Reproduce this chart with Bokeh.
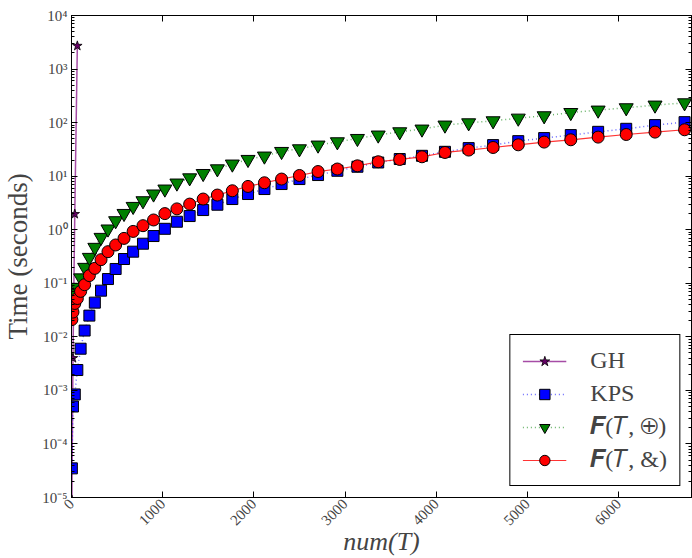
import math
from bokeh.plotting import figure
from bokeh.models import (LogAxis, LinearAxis, FixedTicker, Legend, LegendItem,
                          Range1d, ColumnDataSource)
from bokeh.embed import file_html
from bokeh.resources import INLINE

# ---------------- data ----------------
num_T = [4, 16, 36, 64, 100, 144, 196, 256, 324, 400, 484, 576, 676, 784, 900,
         1024, 1156, 1296, 1444, 1600, 1764, 1936, 2116, 2304, 2500, 2704, 2916,
         3136, 3364, 3600, 3844, 4096, 4356, 4624, 4900, 5184, 5476, 5776, 6084,
         6400, 6724]

gh_x = [4, 16, 36, 64]
gh_time = [9e-6, 4.0e-3, 1.96, 2710]

kps_time = [3.5e-5, 5.0e-4, 8.4e-4, 2.4e-3, 6.0e-3, 0.0131, 0.0249, 0.0435, 0.0728,
            0.120, 0.185, 0.284, 0.389, 0.548, 0.762, 1.04, 1.41, 1.80, 2.33, 2.93,
            3.74, 4.64, 5.75, 7.13, 8.83, 10.5, 12.6, 15.0, 18.0, 20.9, 24.0, 28.5,
            33.4, 38.0, 45.1, 51.4, 58.5, 67.3, 76.6, 89.8, 102]

f_xor_time = [0.033, 0.048, 0.064, 0.084, 0.126, 0.198, 0.304, 0.468, 0.718, 1.03,
              1.47, 2.01, 2.72, 3.47, 4.64, 5.74, 7.43, 9.3, 11.2, 13.7, 16.8, 20.5,
              23.7, 28.9, 32.4, 38.0, 43.8, 50.5, 58.5, 67.3, 75.6, 89.8, 99, 108,
              121, 134, 154, 171, 189, 212, 234]

f_and_time = [0.021, 0.029, 0.042, 0.052, 0.0706, 0.094, 0.139, 0.190, 0.276, 0.389,
              0.519, 0.689, 0.930, 1.19, 1.52, 2.00, 2.45, 3.01, 3.74, 4.44, 5.34,
              6.43, 7.53, 8.83, 10.3, 12.2, 13.6, 15.6, 18.6, 20.5, 23.0, 27.7, 30.7,
              34.3, 38.5, 43.3, 47.8, 53.6, 60.0, 66.5, 73.5]

x_ticks = [0, 1000, 2000, 3000, 4000, 5000, 6000]
y_ticks = [1e-5, 1e-4, 1e-3, 1e-2, 1e-1, 1e0, 1e1, 1e2, 1e3, 1e4]
y_tick_labels = ["10⁻⁵", "10⁻⁴", "10⁻³", "10⁻²", "10⁻¹", "10⁰", "10¹", "10²", "10³", "10⁴"]

labels = ["GH", "KPS", "𝑭(𝑇, ⊕)", "𝑭(𝑇, &)"]

# ---------------- figure ----------------
SERIF = "Liberation Serif"

p = figure(width=692, height=558, x_range=Range1d(0, 6800), y_range=Range1d(1e-5, 1e4),
           y_axis_type="log", output_backend="svg", toolbar_location=None,
           min_border_left=69, min_border_right=1, min_border_top=15, min_border_bottom=61)
p.grid.visible = False
p.outline_line_color = "black"
p.background_fill_color = "white"

minor_y = [m * d for d in y_ticks[:-1] for m in range(2, 10)]
yt = FixedTicker(ticks=y_ticks, minor_ticks=minor_y)
xt = FixedTicker(ticks=x_ticks, minor_ticks=[])


def style_axis(ax):
    ax.axis_line_color = "black"
    ax.major_tick_in = 6
    ax.major_tick_out = 0
    ax.minor_tick_in = 3
    ax.minor_tick_out = 0
    ax.major_tick_line_color = "black"
    ax.minor_tick_line_color = "black"
    ax.major_label_text_font = SERIF
    ax.major_label_text_font_size = "15px"
    ax.major_label_text_color = "#444444"


# left
p.yaxis.ticker = yt
p.yaxis.major_label_overrides = dict(zip(y_ticks, y_tick_labels))
style_axis(p.yaxis[0])
p.yaxis.major_label_standoff = 4
p.yaxis.axis_label = "Time (seconds)"
p.yaxis.axis_label_text_font = SERIF
p.yaxis.axis_label_text_font_size = "27px"
p.yaxis.axis_label_text_font_style = "normal"
p.yaxis.axis_label_standoff = 6

# bottom
p.xaxis.ticker = xt
style_axis(p.xaxis[0])
p.xaxis.major_label_orientation = math.pi / 4
p.xaxis.major_label_standoff = 4
p.xaxis.axis_label = "num(T)"
p.xaxis.axis_label_text_font = SERIF
p.xaxis.axis_label_text_font_size = "26px"
p.xaxis.axis_label_text_font_style = "italic"
p.xaxis.axis_label_standoff = -6

# right and top (ticks only)
ra = LogAxis(ticker=yt, major_label_overrides={t: "" for t in y_ticks})
style_axis(ra)
ra.major_label_standoff = 0
p.add_layout(ra, "right")
ta = LinearAxis(ticker=xt, major_label_overrides={t: "" for t in x_ticks})
style_axis(ta)
ta.major_label_standoff = 0
p.add_layout(ta, "above")

# ---------------- series ----------------
src = ColumnDataSource(dict(x=num_T, kps=kps_time, fx=f_xor_time, fa=f_and_time))
gsrc = ColumnDataSource(dict(x=gh_x, y=gh_time))

gl = p.line("x", "y", source=gsrc, line_color="purple", line_width=1.5, line_alpha=0.7)
gs = p.scatter("x", "y", source=gsrc, marker="star", size=10, fill_color="#660066",
               line_color="black", line_width=0.8)

kl = p.line("x", "kps", source=src, line_color="blue", line_width=1.5, line_alpha=0.6,
            line_dash="1 3")
ks = p.scatter("x", "kps", source=src, marker="square", size=11, fill_color="blue",
               line_color="black", line_width=1)

xl = p.line("x", "fx", source=src, line_color="green", line_width=1.5, line_alpha=0.6,
            line_dash="1 3")
xs = p.scatter("x", "fx", source=src, marker="inverted_triangle", size=14,
               fill_color="green", line_color="black", line_width=1)

al = p.line("x", "fa", source=src, line_color="red", line_width=1.2, line_alpha=0.8)
as_ = p.scatter("x", "fa", source=src, marker="circle", size=12, fill_color="red",
                line_color="black", line_width=1)

legend = Legend(items=[LegendItem(label=labels[0], renderers=[gl, gs]),
                       LegendItem(label=labels[1], renderers=[kl, ks]),
                       LegendItem(label=labels[2], renderers=[xl, xs]),
                       LegendItem(label=labels[3], renderers=[al, as_])],
                location="bottom_right")
legend.border_line_color = "black"
legend.border_line_width = 1
legend.border_line_alpha = 1
legend.background_fill_alpha = 1
legend.margin = 11
legend.padding = 12
legend.spacing = 6
legend.glyph_width = 44
legend.glyph_height = 26
legend.label_height = 26
legend.label_standoff = 24
legend.label_text_font = SERIF
legend.label_text_font_size = "24px"
legend.label_text_baseline = "middle"
p.add_layout(legend)

open("out.html", "w").write(file_html(p, INLINE))
